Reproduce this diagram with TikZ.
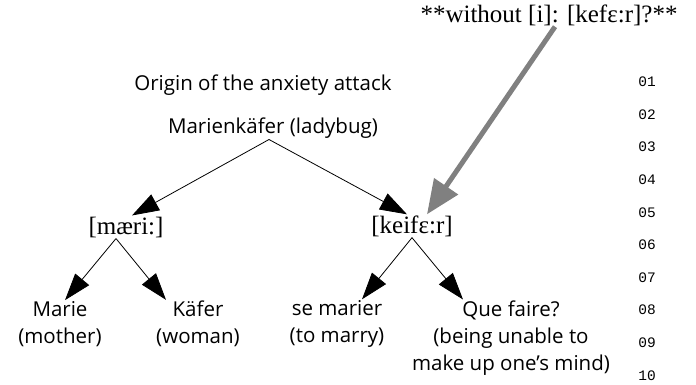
\documentclass[tikz,border=0pt]{standalone}
\usepackage{fontspec}
\setmainfont{Liberation Serif}
\setsansfont{Open Sans}
\setmonofont{Liberation Mono}
\usetikzlibrary{arrows.meta}
\tikzset{
  word/.style={font=\sffamily\fontsize{20.5}{27}\selectfont, align=center, inner sep=1pt},
  ipa/.style={font=\fontsize{25}{27}\selectfont, inner sep=1pt},
  lineno/.style={font=\ttfamily\fontsize{14.5}{14.5}\selectfont, inner sep=0pt},
  branch/.style={-{Triangle[length=27pt,width=18pt]}, line width=0.8pt},
  hint/.style={-{Triangle[length=34pt,width=28pt]}, line width=5pt, draw=black!50}
}
\begin{document}
\begin{tikzpicture}[x=1pt,y=-1pt]
      \useasboundingbox (0,0) rectangle (696,385);
      \draw
        (549,15) node[ipa] (note){**without [i]: [kefɛ:r]?**}
        (263,85) node[word] (origin){Origin of the anxiety attack}
        (273,128) node[word] (ladybug){Marienkäfer (ladybug)}
        (126,227) node[ipa] (marie){[mæri:]}
        (412,226) node[ipa] (keifer){[keifɛ:r]}
        (60,324) node[word] (mother){Marie\\(mother)}
        (198,324) node[word] (woman){Käfer\\(woman)}
        (337,324) node[word] (marry){se marier\\(to marry)}
        (511,338) node[word] (doubt){Que faire?\\(being unable to\\make up one’s mind)};
      \foreach \n in {1,...,10}
        \node[lineno] (l\n) at (647,{82+32.6*(\n-1)}) {\ifnum\n<10 0\fi\n};
      \begin{scope}[branch]
        \draw ([xshift=-4pt]ladybug.south) to ([xshift=6pt]marie.north);
        \draw ([xshift=-4pt]ladybug.south) to ([xshift=-5pt]keifer.north);
        \draw ([xshift=-10pt]marie.south) to ([xshift=5pt]mother.north);
        \draw ([xshift=-10pt]marie.south) to ([xshift=-32pt]woman.north);
        \draw (keifer.south) to ([xshift=25pt]marry.north);
        \draw (keifer.south) to ([xshift=-48pt]doubt.north);
      \end{scope}
      \draw[hint] ([xshift=6pt]note.south) to ([xshift=15pt]keifer.north);
    \end{tikzpicture}
\end{document}
